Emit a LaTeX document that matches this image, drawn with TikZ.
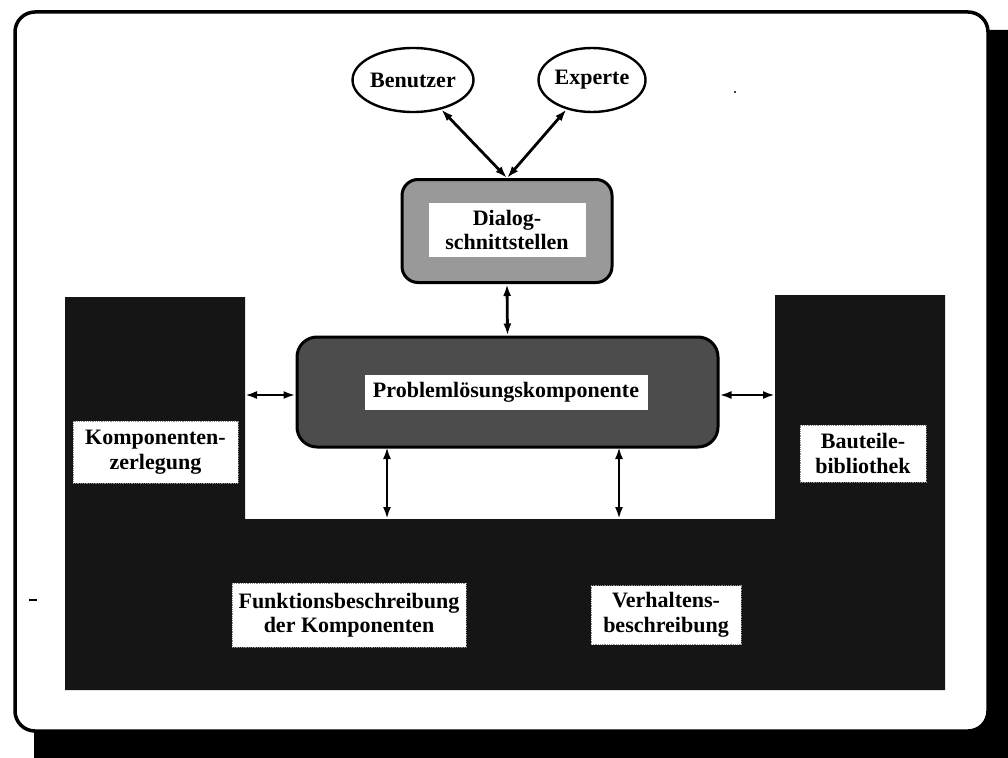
\documentclass[tikz,border=0pt]{standalone}
\usepackage{fontspec}
\setmainfont{Liberation Serif}
\usetikzlibrary{shapes.geometric,arrows.meta}
\definecolor{ink}{HTML}{151515}
\begin{document}
\begin{tikzpicture}[x=1pt,y=-1pt,
  txt/.style={font=\fontsize{22}{24.5}\selectfont\bfseries, align=center, inner sep=0pt},
  person/.style={txt, ellipse, draw, line width=2.4pt, fill=white, minimum width=107pt, minimum height=64pt},
  shellbox/.style={draw, line width=3pt, rounded corners=16pt},
  window/.style={txt, fill=white},
  tag/.style={txt, fill=white, draw=black!45, densely dotted, line width=0.8pt},
  link/.style={line width=2.8pt, {Latex[length=12pt,width=8pt]}-{Latex[length=12pt,width=8pt]}}
]
\useasboundingbox (0,0) rectangle (1008,757);
\begin{scope}
\clip (0,0) rectangle (1008,757);
% drop shadow and frame
\fill[black, rounded corners=20pt] (34,30) rectangle (1040,790);
\draw[line width=3.5pt, fill=white, rounded corners=20pt] (15,12) rectangle (988,731);
\end{scope}

% dark U-shaped knowledge area
\fill[ink] (65,297) -- (245,297) -- (245,519) -- (775,519) -- (775,295)
  -- (945,295) -- (945,690) -- (65,690) -- cycle;

% actors
\node[person] (benutzer) at (413,80) {Benutzer};
\node[person] (experte) at (592,80) {Experte};

% dialog interface
\node[shellbox, fill=black!40, minimum width=210pt, minimum height=103pt] (dialog) at (507,231) {};
\node[window, minimum width=157pt, minimum height=54pt] (dialogtxt) at (507,230) {Dialog-\\schnittstellen};

% problem solving component
\node[shellbox, rounded corners=20pt, fill=black!70, minimum width=421pt, minimum height=110pt] (problem) at (507.5,392) {};
\node[window, minimum width=283pt, minimum height=35pt] (problemtxt) at (506,392.5) {Problemlösungskomponente};

% knowledge base labels
\node[tag, minimum width=165pt, minimum height=62pt] (zerlegung) at (155.5,452) {Komponenten-\\zerlegung};
\node[tag, minimum width=126pt, minimum height=57pt] (bibliothek) at (863,453.5) {Bauteile-\\bibliothek};
\node[tag, minimum width=234pt, minimum height=64pt] (funktion) at (349,615) {Funktionsbeschreibung\\der Komponenten};
\node[tag, minimum width=150pt, minimum height=59pt] (verhalten) at (666,615) {Verhaltens-\\beschreibung};

% edges of the dark area where the links end
\coordinate (leftedge) at (245,395);
\coordinate (rightedge) at (775,395);
\coordinate (bandA) at (387,519);
\coordinate (bandB) at (619,519);
\coordinate (probA) at (387,447);
\coordinate (probB) at (619,447);

% links
\draw[link] (benutzer) -- (dialog.north);
\draw[link] (experte) -- (dialog.north);
\draw[link] (dialog.south) -- (problem.north);
\draw[link] (leftedge) -- (problem.west |- leftedge);
\draw[link] (rightedge) -- (problem.east |- rightedge);
\draw[link] (probA) -- (bandA);
\draw[link] (probB) -- (bandB);

% small marks
\draw[line width=2pt] (29,600) -- (37,600);
\fill (735,92) circle (1.2pt);
\end{tikzpicture}
\end{document}
